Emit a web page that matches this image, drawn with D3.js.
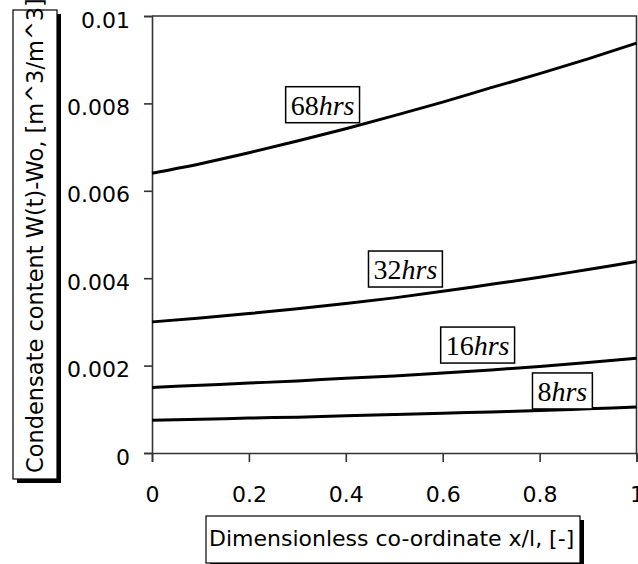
<!DOCTYPE html>
<html><head><meta charset="utf-8">
<script src="https://cdn.jsdelivr.net/npm/d3@7"></script>
<style>body{margin:0;background:#fff}svg{display:block}</style>
</head><body>
<script>
// ---- data ----
const xValues = [0, 0.1, 0.2, 0.3, 0.4, 0.5, 0.6, 0.7, 0.8, 0.9, 1];
const s68 = [0.0064, 0.00662, 0.00687, 0.00714, 0.00742, 0.00772, 0.00803, 0.00836, 0.00868, 0.00902, 0.00938];
const s32 = [0.0030, 0.00309, 0.00319, 0.00330, 0.00342, 0.00355, 0.00370, 0.00386, 0.00402, 0.00420, 0.00438];
const s16 = [0.0015, 0.00155, 0.0016, 0.00165, 0.00171, 0.00176, 0.00183, 0.0019, 0.00198, 0.00207, 0.00217];
const s8  = [0.00075, 0.00077, 0.0008, 0.00082, 0.00085, 0.00088, 0.00091, 0.00094, 0.00097, 0.00101, 0.00105];
const seriesNames = ["68", "32", "16", "8"];
const seriesValues = [s68, s32, s16, s8];
// label anchors in data units
const labelX = [0.352, 0.523, 0.672, 0.847];
const labelY = [0.00797, 0.00421, 0.00247, 0.00142];
const xTicks = [0, 0.2, 0.4, 0.6, 0.8, 1];
const xTickLabels = ["0", "0.2", "0.4", "0.6", "0.8", "1"];
const yTicks = [0, 0.002, 0.004, 0.006, 0.008, 0.01];
const yTickLabels = ["0", "0.002", "0.004", "0.006", "0.008", "0.01"];
const xTitle = "Dimensionless co-ordinate x/l, [-]";
const yTitle = "Condensate content W(t)-Wo, [m^3/m^3]";

const W = 638, H = 564;
const L = 152, R = 636.5, T = 16, B = 453;
const svg = d3.select("body").append("svg").attr("width", W).attr("height", H);
const x = d3.scaleLinear().domain([0, 1]).range([L, R]);
const y = d3.scaleLinear().domain([0, 0.01]).range([B, T]);
const axisCol = "#333";
const sans = "'DejaVu Sans', sans-serif";

// frame top/right
svg.append("path").attr("d", `M${L},${T}H${R}V${B}`).attr("fill", "none")
  .attr("stroke", axisCol).attr("stroke-width", 1.6);

// y axis
const ya = svg.append("g").attr("transform", `translate(${L},0)`)
  .call(d3.axisLeft(y).tickValues(yTicks).tickSize(8).tickPadding(14)
    .tickFormat((d, i) => yTickLabels[i]));
ya.select(".domain").attr("stroke", axisCol).attr("stroke-width", 1.6);
ya.selectAll(".tick line").attr("stroke", axisCol).attr("stroke-width", 1.6);
ya.selectAll(".tick text").attr("font-family", sans).attr("font-size", 22)
  .attr("fill", "#000").attr("dy", "0.5em");

// x axis
const xa = svg.append("g").attr("transform", `translate(0,${B})`)
  .call(d3.axisBottom(x).tickValues(xTicks).tickSize(9).tickPadding(0)
    .tickFormat((d, i) => xTickLabels[i]));
xa.select(".domain").attr("stroke", axisCol).attr("stroke-width", 1.6);
xa.selectAll(".tick line").attr("stroke", axisCol).attr("stroke-width", 1.6);
xa.selectAll(".tick text").attr("font-family", sans).attr("font-size", 22)
  .attr("fill", "#000").attr("y", 49).attr("dy", 0);

// lines
const line = d3.line().x((d, i) => x(xValues[i])).y(d => y(d)).curve(d3.curveMonotoneX);
seriesValues.forEach(vals => {
  svg.append("path").attr("d", line(vals)).attr("fill", "none")
    .attr("stroke", "#000").attr("stroke-width", 3);
});

// series labels
seriesNames.forEach((n, i) => {
  const g = svg.append("g");
  const t = g.append("text").attr("x", x(labelX[i])).attr("y", y(labelY[i]))
    .attr("text-anchor", "middle").attr("dy", "0.35em")
    .attr("font-family", "'Liberation Serif', serif").attr("font-size", 28);
  t.append("tspan").text(n);
  t.append("tspan").attr("font-style", "italic").text("hrs");
  const bb = t.node().getBBox();
  g.insert("rect", "text").attr("x", bb.x - 5).attr("y", y(labelY[i]) - 18)
    .attr("width", bb.width + 10).attr("height", 36)
    .attr("fill", "#fff").attr("stroke", "#000").attr("stroke-width", 1.5);
});

// y title box
svg.append("rect").attr("x", 17).attr("y", 14).attr("width", 44).attr("height", 469).attr("fill", "#000");
svg.append("rect").attr("x", 13).attr("y", 10).attr("width", 44).attr("height", 469)
  .attr("fill", "#fff").attr("stroke", "#000").attr("stroke-width", 1.2);
svg.append("text").attr("transform", "translate(43,473) rotate(-90)")
  .attr("font-family", sans).attr("font-size", 22.5).attr("fill", "#000").text(yTitle);

// x title box
svg.append("rect").attr("x", 210).attr("y", 520).attr("width", 374).attr("height", 47).attr("fill", "#000");
svg.append("rect").attr("x", 206).attr("y", 516).attr("width", 374).attr("height", 47)
  .attr("fill", "#fff").attr("stroke", "#000").attr("stroke-width", 1.2);
svg.append("text").attr("x", 209).attr("y", 546)
  .attr("font-family", sans).attr("font-size", 22).attr("fill", "#000").text(xTitle);
</script>
</body></html>
